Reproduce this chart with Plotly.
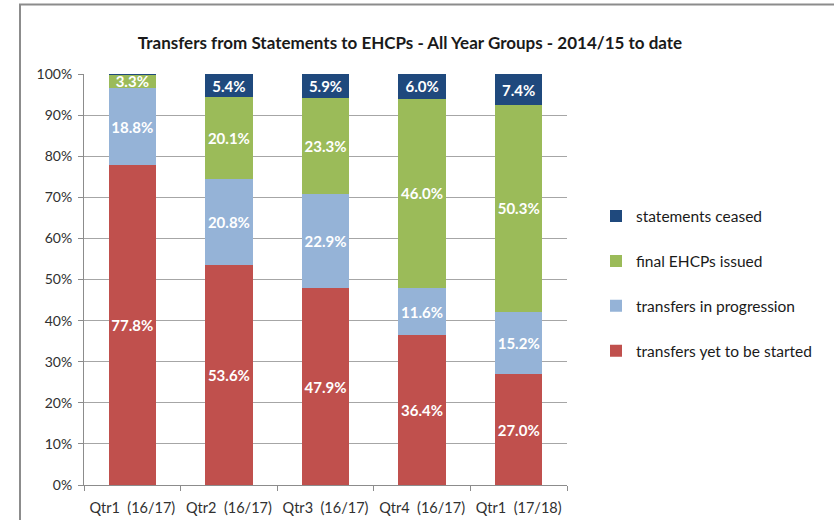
import plotly.graph_objects as go

categories = ["Qtr1\u00a0 (16/17)", "Qtr2\u00a0 (16/17)", "Qtr3\u00a0 (16/17)", "Qtr4\u00a0 (16/17)", "Qtr1\u00a0 (17/18)"]
yet_to_start = [77.8, 53.6, 47.9, 36.4, 27.0]
in_progression = [18.8, 20.8, 22.9, 11.6, 15.2]
final_issued = [3.3, 20.1, 23.3, 46.0, 50.3]
ceased = [0.1, 5.4, 5.9, 6.0, 7.4]

series = [
    ("transfers yet to be started", yet_to_start, "#C0504D"),
    ("transfers in progression", in_progression, "#95B3D7"),
    ("final EHCPs issued", final_issued, "#9BBB59"),
    ("statements ceased", ceased, "#1F497D"),
]

FONT = "Lato, 'Open Sans', sans-serif"

fig = go.Figure()
for i, (name, vals, col) in enumerate(series):
    txt = [f"{v:.1f}%" if v >= 1 else "" for v in vals]
    fig.add_trace(go.Bar(
        x=categories, y=vals, name=name, marker=dict(color=col, line=dict(width=0)),
        text=txt, textposition="inside", insidetextanchor="middle", textangle=0,
        textfont=dict(color="white", size=15, family=FONT, weight="bold"),
        legendgroup=f"g{i}", legendrank=10 - i, hoverinfo="skip",
    ))

W, H = 834, 520
L, T = 84, 74
R = W - 567
B = H - 485
pw, ph = W - L - R, H - T - B

def px(xpage):
    return (xpage - L) / pw

def py(ypage):
    return (H - B - ypage) / ph

fig.update_layout(
    width=W, height=H, barmode="stack", bargap=0.51,
    margin=dict(l=L, r=R, t=T, b=B, autoexpand=False),
    paper_bgcolor="white", plot_bgcolor="white",
    font=dict(family=FONT, size=12, color="#404040"),
    title=dict(text="<b>Transfers from Statements to EHCPs - All Year Groups - 2014/15 to date</b>",
               x=410 / W, xref="container", xanchor="center",
               y=1 - 43 / H, yref="container", yanchor="middle",
               font=dict(size=17, color="#1a1a1a", family=FONT)),
    uniformtext=dict(mode="show", minsize=15),
    showlegend=True,
    legend=dict(x=px(596), xanchor="left", y=py(199.5), yanchor="top",
                traceorder="grouped", tracegroupgap=21.7,
                font=dict(size=15.5, color="#1a1a1a", family=FONT), bgcolor="rgba(0,0,0,0)"),
    xaxis=dict(showline=True, linecolor="#8c8c8c", linewidth=1, ticks="outside", tickson="boundaries",
               ticklen=5, tickcolor="#8c8c8c", tickfont=dict(size=14.5, color="#303030"),
               ticklabelstandoff=10, automargin=False),
    yaxis=dict(range=[0, 100], dtick=10, ticksuffix="%", showgrid=True, gridcolor="#a6a6a6", gridwidth=1,
               showline=True, linecolor="#8c8c8c", ticks="outside", ticklen=5, tickcolor="#8c8c8c",
               zeroline=False, tickfont=dict(size=14, color="#303030"), ticklabelstandoff=3,
               automargin=False),
    shapes=[dict(type="rect", xref="paper", yref="paper",
                 x0=px(20), x1=px(900), y0=py(560), y1=py(4.5),
                 line=dict(color="#8c8c8c", width=2), fillcolor="rgba(0,0,0,0)", layer="below")],
)

fig.write_html("out.html", config={"displayModeBar": False},
               post_script="document.body.style.margin='0';document.body.style.overflow='hidden';")
